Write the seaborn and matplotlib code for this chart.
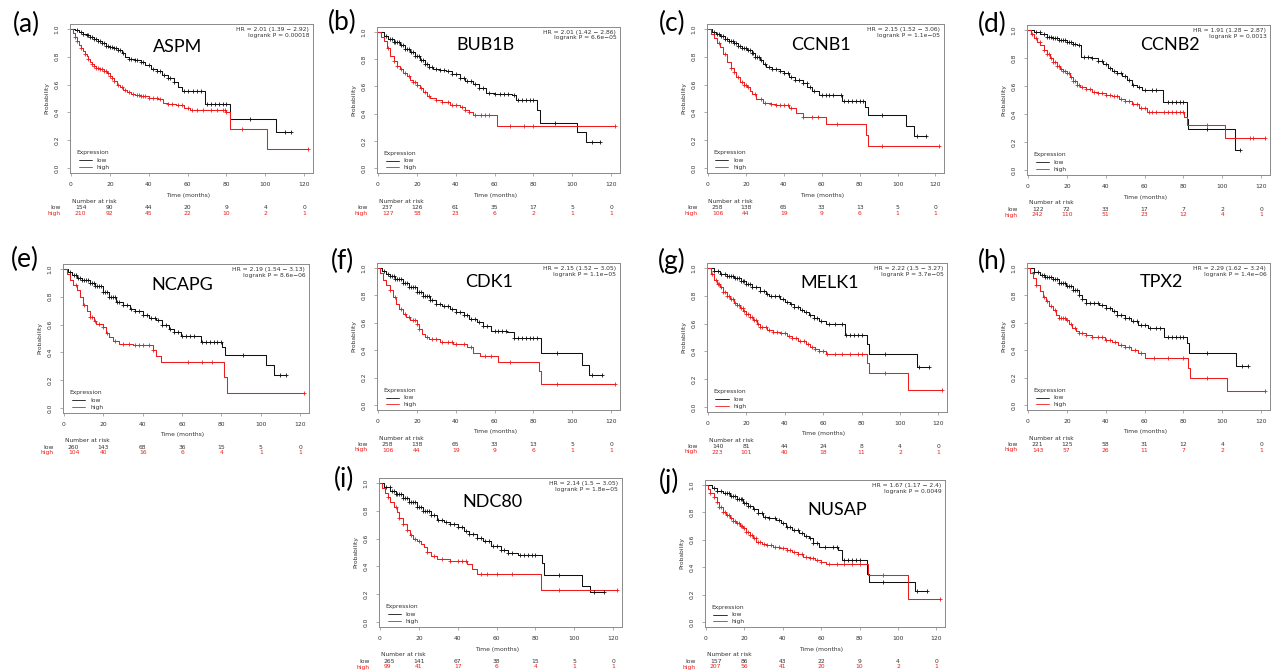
import numpy as np
import pandas as pd
import matplotlib
matplotlib.use("Agg")
import matplotlib.pyplot as plt
import seaborn as sns

sns.set_theme(style="white")
plt.rcParams["font.family"] = ["DejaVu Sans"]

TIME_TICKS = [0, 20, 40, 60, 80, 100, 120]
PROB_TICKS = [0.0, 0.2, 0.4, 0.6, 0.8, 1.0]

# ---------------- ASPM ----------------
ASPM_LOW_T = [0, 2, 4, 6, 8, 10, 12, 14, 16, 18, 20, 22, 24, 26, 28, 30, 33, 36, 38, 41, 44, 47, 50, 53, 55, 57, 69, 82, 105.5]
ASPM_LOW_S = [1.0, 0.99, 0.975, 0.965, 0.955, 0.94, 0.925, 0.91, 0.895, 0.88, 0.87, 0.86, 0.845, 0.83, 0.80, 0.785, 0.78, 0.765, 0.74, 0.71, 0.695, 0.67, 0.645, 0.62, 0.585, 0.555, 0.46, 0.35, 0.26]
ASPM_LOW_CENS = [3, 5, 6, 8, 9, 10, 11, 12, 13, 14, 15, 16, 17, 18, 19, 20, 21, 22, 23, 24, 25, 27, 30, 31, 33, 34, 36, 37, 40, 42, 44, 46, 48, 50, 51, 53, 58, 60, 63, 65, 67, 70, 72, 74, 76, 78, 80, 92, 110, 113]
ASPM_HIGH_T = [0, 1, 2, 3, 4, 5, 6, 7, 8, 9, 10, 11, 12, 13, 15, 17, 18.5, 20, 21, 22, 23.5, 25, 27, 29, 31, 33, 36, 40, 45, 47.5, 50, 54, 58, 61, 80, 82, 101]
ASPM_HIGH_S = [1.0, 0.97, 0.94, 0.91, 0.885, 0.86, 0.84, 0.82, 0.805, 0.785, 0.765, 0.75, 0.735, 0.72, 0.71, 0.70, 0.685, 0.665, 0.645, 0.625, 0.60, 0.58, 0.56, 0.545, 0.535, 0.525, 0.515, 0.505, 0.50, 0.47, 0.46, 0.45, 0.435, 0.42, 0.40, 0.28, 0.14]
ASPM_HIGH_CENS = [2, 3, 5, 7, 9, 11, 12, 13, 14, 15, 16, 17, 18, 19, 20, 21, 22, 24, 26, 28, 30, 32, 34, 35, 36, 37, 38, 40, 42, 44, 46, 50, 52, 55, 57, 60, 62, 65, 68, 72, 75, 78, 79, 80, 88, 122]
ASPM_RISK_LOW = [154, 90, 44, 20, 9, 4, 0]
ASPM_RISK_HIGH = [210, 92, 45, 22, 10, 2, 1]
ASPM_STATS = ["HR = 2.01 (1.39 \u2212 2.92)", "logrank P = 0.00018"]

# ---------------- BUB1B ----------------
BUB1B_LOW_T = [0, 3, 5.4, 8, 11.4, 14, 16.5, 19, 21.6, 24, 26, 28.4, 32, 35, 38, 42, 45, 48.7, 52, 55.5, 60, 69, 70.8, 82, 83.5, 102.6, 106.8]
BUB1B_LOW_S = [1.0, 0.97, 0.945, 0.925, 0.90, 0.875, 0.85, 0.82, 0.79, 0.765, 0.745, 0.726, 0.72, 0.71, 0.69, 0.664, 0.64, 0.614, 0.59, 0.552, 0.545, 0.54, 0.50, 0.43, 0.333, 0.266, 0.19]
BUB1B_LOW_CENS = [4, 6, 7, 8, 9, 10, 11, 12, 13, 14, 15, 16, 17, 18, 19, 20, 21, 22, 23, 24, 25, 26, 28, 30, 32, 34, 36, 38, 40, 42, 44, 46, 48, 50, 52, 54, 57, 60, 63, 65, 67, 70, 72, 74, 76, 78, 80, 91, 110, 114]
BUB1B_HIGH_T = [0, 1.5, 3, 4.5, 6.3, 8, 9.7, 11.5, 13, 15, 16.5, 18, 20, 21.6, 23, 25, 27, 30, 33, 36.8, 42, 45, 47, 48.7, 61]
BUB1B_HIGH_S = [1.0, 0.96, 0.93, 0.88, 0.826, 0.785, 0.75, 0.725, 0.70, 0.675, 0.65, 0.63, 0.61, 0.59, 0.56, 0.527, 0.515, 0.50, 0.485, 0.465, 0.45, 0.43, 0.415, 0.39, 0.308]
BUB1B_HIGH_CENS = [5, 8, 10, 12, 14, 16, 18, 19, 20, 22, 24, 26, 30, 33, 36, 38, 40, 43, 45, 47, 50, 53, 55, 57, 68, 75, 80, 122]
BUB1B_RISK_LOW = [237, 126, 61, 35, 17, 5, 0]
BUB1B_RISK_HIGH = [127, 58, 23, 6, 2, 1, 1]
BUB1B_STATS = ["HR = 2.01 (1.42 \u2212 2.86)", "logrank P = 6.6e\u221205"]

# ---------------- CCNB1 ----------------
CCNB1_LOW_T = [0, 2, 4, 6.6, 9, 11, 13.5, 16, 18, 20.5, 23, 25, 27.4, 29, 30.8, 34, 37.8, 40, 43, 46, 50, 52.5, 55, 58.6, 70.7, 82.8, 84.2, 104.5, 108.8]
CCNB1_LOW_S = [1.0, 0.975, 0.96, 0.946, 0.93, 0.915, 0.898, 0.88, 0.865, 0.849, 0.825, 0.80, 0.776, 0.75, 0.727, 0.715, 0.70, 0.68, 0.654, 0.635, 0.61, 0.585, 0.556, 0.527, 0.483, 0.44, 0.38, 0.305, 0.234]
CCNB1_LOW_CENS = [3, 5, 6, 7, 8, 9, 10, 11, 12, 13, 14, 15, 16, 17, 18, 19, 20, 21, 22, 23, 24, 25, 26, 27, 28, 30, 32, 34, 36, 38, 40, 42, 44, 46, 48, 50, 52, 54, 56, 60, 62, 64, 66, 70, 72, 74, 76, 78, 80, 82, 92, 110, 115]
CCNB1_HIGH_T = [0, 1.5, 3, 5, 6.6, 8, 10, 12, 13.5, 15, 17, 19, 20.5, 22, 23, 25.6, 29, 33, 36, 43, 46.4, 50, 62, 83.2, 84.5]
CCNB1_HIGH_S = [1.0, 0.965, 0.934, 0.90, 0.873, 0.82, 0.763, 0.72, 0.69, 0.655, 0.617, 0.595, 0.58, 0.555, 0.53, 0.495, 0.47, 0.46, 0.454, 0.434, 0.397, 0.366, 0.317, 0.24, 0.16]
CCNB1_HIGH_CENS = [6, 9, 12, 14, 16, 18, 19, 20, 21, 25, 28, 30, 33, 36, 38, 40, 42, 44, 50, 55, 58, 68, 92, 122]
CCNB1_RISK_LOW = [258, 138, 65, 33, 13, 5, 0]
CCNB1_RISK_HIGH = [106, 44, 19, 9, 6, 1, 1]
CCNB1_STATS = ["HR = 2.15 (1.52 \u2212 3.06)", "logrank P = 1.1e\u221205"]

# ---------------- CCNB2 ----------------
CCNB2_LOW_T = [0, 3, 6.4, 10, 13, 16, 20, 23, 25, 27.4, 33, 36, 38.4, 41, 43.4, 46, 48.5, 51, 53.5, 56, 58.6, 69.5, 81.8, 82.5, 106.6]
CCNB2_LOW_S = [1.0, 0.985, 0.968, 0.952, 0.94, 0.93, 0.915, 0.90, 0.89, 0.805, 0.80, 0.78, 0.756, 0.73, 0.707, 0.69, 0.67, 0.64, 0.61, 0.59, 0.573, 0.483, 0.366, 0.29, 0.146]
CCNB2_LOW_CENS = [4, 6, 8, 10, 11, 12, 13, 14, 15, 16, 17, 18, 19, 20, 21, 22, 23, 24, 26, 29, 31, 33, 36, 38, 40, 42, 44, 46, 48, 50, 52, 54, 57, 60, 64, 66, 72, 74, 76, 78, 80, 92, 109]
CCNB2_HIGH_T = [0, 1.5, 3, 4.5, 6.4, 8, 9.8, 11.5, 13, 15, 16.5, 18, 20, 21.5, 23, 25, 26.6, 30, 33, 36, 40, 43, 46.8, 50, 53.5, 57, 61, 80.5, 82, 101.5]
CCNB2_HIGH_S = [1.0, 0.97, 0.94, 0.915, 0.89, 0.86, 0.83, 0.80, 0.77, 0.745, 0.72, 0.705, 0.695, 0.665, 0.634, 0.61, 0.59, 0.575, 0.56, 0.55, 0.537, 0.525, 0.51, 0.49, 0.47, 0.44, 0.415, 0.378, 0.32, 0.227]
CCNB2_HIGH_CENS = [2, 4, 6, 8, 10, 11, 12, 13, 14, 15, 16, 17, 18, 19, 20, 21, 22, 23, 24, 25, 26, 28, 30, 32, 34, 36, 38, 40, 42, 44, 46, 48, 50, 52, 54, 56, 58, 60, 62, 64, 66, 70, 72, 74, 76, 78, 80, 92, 114, 116, 122]
CCNB2_RISK_LOW = [122, 72, 33, 17, 7, 2, 0]
CCNB2_RISK_HIGH = [242, 110, 51, 23, 12, 4, 1]
CCNB2_STATS = ["HR = 1.91 (1.28 \u2212 2.87)", "logrank P = 0.0013"]

# ---------------- NCAPG ----------------
NCAPG_LOW_T = [0, 2, 4, 6.4, 9, 13, 16, 20, 23, 26.6, 30, 33.3, 36, 40, 43, 46.8, 50, 53.5, 56, 59.4, 69.5, 80.5, 82, 102.4, 106.6]
NCAPG_LOW_S = [1.0, 0.975, 0.955, 0.934, 0.92, 0.90, 0.875, 0.837, 0.80, 0.763, 0.74, 0.715, 0.695, 0.666, 0.65, 0.63, 0.60, 0.568, 0.545, 0.52, 0.478, 0.44, 0.385, 0.307, 0.24]
NCAPG_LOW_CENS = [3, 5, 6, 7, 8, 9, 10, 11, 12, 13, 14, 15, 16, 17, 18, 19, 20, 21, 22, 23, 24, 25, 26, 27, 28, 30, 32, 34, 36, 38, 40, 42, 44, 46, 48, 50, 52, 54, 56, 58, 60, 62, 64, 66, 70, 72, 74, 76, 78, 80, 91, 110, 113]
NCAPG_HIGH_T = [0, 1.5, 3, 4.5, 6.4, 8, 9.8, 11.5, 13, 15, 16.5, 20, 21.5, 23, 25, 28, 35, 45, 46.8, 49.3, 81.3, 83]
NCAPG_HIGH_S = [1.0, 0.96, 0.92, 0.885, 0.85, 0.795, 0.74, 0.695, 0.654, 0.625, 0.605, 0.58, 0.537, 0.51, 0.483, 0.458, 0.455, 0.42, 0.373, 0.33, 0.227, 0.112]
NCAPG_HIGH_CENS = [6, 10, 13, 14, 16, 18, 20, 22, 26, 30, 33, 36, 38, 40, 43, 45, 63, 70, 75, 122]
NCAPG_RISK_LOW = [260, 143, 68, 36, 15, 5, 0]
NCAPG_RISK_HIGH = [104, 40, 16, 6, 4, 1, 1]
NCAPG_STATS = ["HR = 2.19 (1.54 \u2212 3.13)", "logrank P = 8.6e\u221206"]

# ---------------- CDK1 ----------------
CDK1_LOW_T = [0, 2, 4, 6, 9, 13, 16, 20, 23, 26.8, 30, 33, 37, 40, 44, 47, 51, 54, 57.9, 66.5, 70, 83.8, 104.8, 108.8]
CDK1_LOW_S = [1.0, 0.975, 0.955, 0.938, 0.915, 0.889, 0.86, 0.827, 0.795, 0.765, 0.733, 0.72, 0.70, 0.68, 0.654, 0.63, 0.605, 0.575, 0.543, 0.53, 0.489, 0.383, 0.296, 0.222]
CDK1_LOW_CENS = [3, 5, 6, 7, 8, 9, 10, 11, 12, 13, 14, 15, 16, 17, 18, 19, 20, 21, 22, 23, 24, 25, 26, 27, 28, 30, 32, 34, 36, 38, 40, 42, 44, 46, 48, 50, 52, 54, 56, 60, 62, 64, 66, 70, 72, 74, 76, 78, 80, 82, 92, 110, 115]
CDK1_HIGH_T = [0, 1, 2.6, 4, 6, 7.5, 9.5, 11, 13, 14.5, 16.4, 20, 21, 22.5, 24, 26, 32, 38.8, 45.8, 49, 52.7, 62, 83, 84]
CDK1_HIGH_S = [1.0, 0.96, 0.914, 0.875, 0.84, 0.79, 0.74, 0.70, 0.667, 0.64, 0.617, 0.593, 0.555, 0.518, 0.50, 0.48, 0.457, 0.444, 0.42, 0.383, 0.358, 0.316, 0.247, 0.153]
CDK1_HIGH_CENS = [6, 9, 12, 14, 16, 18, 19, 20, 21, 25, 28, 30, 33, 36, 38, 40, 44, 48, 55, 58, 68, 92, 122]
CDK1_RISK_LOW = [258, 138, 65, 33, 13, 5, 0]
CDK1_RISK_HIGH = [106, 44, 19, 9, 6, 1, 1]
CDK1_STATS = ["HR = 2.15 (1.52 \u2212 3.05)", "logrank P = 1.1e\u221205"]

# ---------------- MELK1 ----------------
MELK1_LOW_T = [0, 3, 6.5, 10, 13.4, 17, 20, 23, 27, 30, 32, 37.4, 40, 42.5, 45, 47.7, 50, 52.8, 55, 58, 61.4, 71.4, 82.8, 84, 109]
MELK1_LOW_S = [1.0, 0.98, 0.958, 0.945, 0.93, 0.905, 0.885, 0.86, 0.836, 0.815, 0.80, 0.775, 0.755, 0.738, 0.72, 0.70, 0.685, 0.664, 0.64, 0.615, 0.60, 0.52, 0.456, 0.38, 0.285]
MELK1_LOW_CENS = [3, 5, 7, 9, 10, 11, 12, 13, 14, 15, 16, 17, 18, 19, 20, 21, 22, 23, 25, 27, 29, 31, 33, 35, 37, 39, 41, 43, 45, 47, 49, 51, 53, 55, 57, 59, 63, 66, 70, 72, 74, 76, 78, 80, 92, 110, 115]
MELK1_HIGH_T = [0, 1.5, 3, 4.5, 6.5, 8, 10, 11.5, 13.4, 15, 16.8, 18.5, 20, 22, 23.7, 25.5, 27, 30.5, 34, 37.4, 41, 44, 47, 51, 53, 56, 58, 61.4, 82.8, 84, 104.3]
MELK1_HIGH_S = [1.0, 0.955, 0.91, 0.885, 0.86, 0.83, 0.80, 0.775, 0.75, 0.73, 0.713, 0.69, 0.67, 0.65, 0.627, 0.60, 0.578, 0.554, 0.54, 0.53, 0.51, 0.493, 0.475, 0.456, 0.435, 0.414, 0.40, 0.382, 0.32, 0.248, 0.125]
MELK1_HIGH_CENS = [2, 4, 5, 6, 7, 8, 9, 10, 11, 12, 13, 14, 15, 16, 17, 18, 19, 20, 21, 22, 23, 24, 25, 26, 27, 28, 30, 32, 34, 36, 38, 40, 42, 44, 46, 48, 50, 52, 54, 56, 58, 60, 62, 66, 70, 74, 78, 80, 92, 122]
MELK1_RISK_LOW = [140, 81, 44, 24, 8, 4, 0]
MELK1_RISK_HIGH = [223, 101, 40, 18, 11, 2, 1]
MELK1_STATS = ["HR = 2.22 (1.5 \u2212 3.27)", "logrank P = 3.7e\u221205"]

# ---------------- TPX2 ----------------
TPX2_LOW_T = [0, 3, 6, 9, 12.7, 16, 19.4, 23, 26, 28, 29.6, 36.3, 40, 43, 46, 49.8, 53, 56.6, 61.7, 70, 82, 82.8, 106.8]
TPX2_LOW_S = [1.0, 0.97, 0.946, 0.93, 0.915, 0.89, 0.866, 0.835, 0.805, 0.77, 0.744, 0.73, 0.705, 0.683, 0.66, 0.634, 0.61, 0.585, 0.56, 0.50, 0.45, 0.383, 0.285]
TPX2_LOW_CENS = [3, 5, 7, 8, 9, 10, 11, 12, 13, 14, 15, 16, 17, 18, 19, 20, 21, 22, 23, 24, 25, 26, 28, 30, 32, 34, 36, 38, 40, 42, 44, 46, 48, 50, 52, 54, 56, 58, 60, 63, 66, 68, 72, 74, 76, 78, 80, 92, 110, 113]
TPX2_HIGH_T = [0, 1, 2.5, 4, 6, 7.5, 9.3, 11, 12.7, 14.5, 16, 19.4, 21, 22.8, 24.5, 26, 30, 33, 39.7, 43, 46.5, 50, 53.2, 56.6, 60, 82.3, 83.6, 102.2]
TPX2_HIGH_S = [1.0, 0.965, 0.927, 0.875, 0.83, 0.79, 0.756, 0.725, 0.695, 0.66, 0.634, 0.622, 0.59, 0.56, 0.54, 0.524, 0.51, 0.50, 0.476, 0.46, 0.439, 0.42, 0.402, 0.378, 0.341, 0.268, 0.20, 0.105]
TPX2_HIGH_CENS = [4, 8, 10, 12, 14, 16, 17, 18, 19, 20, 22, 24, 26, 28, 30, 33, 36, 38, 40, 42, 45, 48, 50, 52, 55, 58, 65, 72, 80, 92, 122]
TPX2_RISK_LOW = [221, 125, 58, 31, 12, 4, 0]
TPX2_RISK_HIGH = [143, 57, 26, 11, 7, 2, 1]
TPX2_STATS = ["HR = 2.29 (1.62 \u2212 3.24)", "logrank P = 1.4e\u221206"]

# ---------------- NDC80 ----------------
NDC80_LOW_T = [0, 2, 5.2, 8, 12, 15, 19, 22, 26, 29.4, 33, 36, 40, 43, 46, 50, 53, 57, 62, 66, 70.8, 83.2, 84.6, 104, 108]
NDC80_LOW_S = [1.0, 0.97, 0.944, 0.92, 0.89, 0.86, 0.83, 0.80, 0.769, 0.732, 0.72, 0.708, 0.68, 0.652, 0.63, 0.603, 0.58, 0.55, 0.518, 0.50, 0.48, 0.423, 0.336, 0.263, 0.219]
NDC80_LOW_CENS = [3, 5, 6, 7, 8, 9, 10, 11, 12, 13, 14, 15, 16, 17, 18, 19, 20, 21, 22, 23, 24, 25, 26, 28, 30, 32, 34, 36, 38, 40, 42, 44, 46, 48, 50, 52, 54, 56, 58, 60, 62, 64, 66, 68, 72, 74, 76, 78, 80, 92, 110, 115]
NDC80_HIGH_T = [0, 1, 2.6, 4, 5.2, 7, 8.6, 10, 12, 14, 15.5, 17, 19, 21, 22.5, 24, 26, 29.4, 36, 45, 47.5, 50, 82.9]
NDC80_HIGH_S = [1.0, 0.965, 0.927, 0.895, 0.866, 0.83, 0.793, 0.75, 0.708, 0.665, 0.623, 0.60, 0.586, 0.56, 0.537, 0.505, 0.476, 0.45, 0.44, 0.416, 0.38, 0.343, 0.229]
NDC80_HIGH_CENS = [4, 8, 10, 12, 14, 16, 18, 20, 24, 28, 32, 36, 40, 42, 44, 52, 55, 60, 68, 92, 122]
NDC80_RISK_LOW = [265, 141, 67, 38, 15, 5, 0]
NDC80_RISK_HIGH = [99, 41, 17, 6, 4, 1, 1]
NDC80_STATS = ["HR = 2.14 (1.5 \u2212 3.05)", "logrank P = 1.8e\u221205"]

# ---------------- NUSAP ----------------
NUSAP_LOW_T = [0, 3, 5.5, 9, 12.4, 16, 19.3, 22, 24.5, 27, 29.7, 33, 36.6, 39, 41.7, 45, 48.6, 51, 53.8, 56, 59, 69, 70.7, 84, 84.8, 109]
NUSAP_LOW_S = [1.0, 0.975, 0.956, 0.94, 0.922, 0.895, 0.866, 0.845, 0.824, 0.795, 0.768, 0.755, 0.744, 0.72, 0.695, 0.67, 0.646, 0.63, 0.61, 0.58, 0.549, 0.524, 0.451, 0.354, 0.293, 0.224]
NUSAP_LOW_CENS = [4, 6, 8, 10, 11, 12, 13, 14, 15, 16, 17, 18, 19, 20, 21, 22, 23, 25, 27, 29, 31, 33, 36, 38, 40, 42, 44, 46, 48, 50, 52, 54, 56, 58, 62, 66, 68, 72, 74, 76, 78, 80, 92, 110, 115]
NUSAP_HIGH_T = [0, 1, 2, 4, 5.5, 7, 9, 10.5, 12.4, 14, 15.9, 17.5, 19.3, 21, 22.8, 24.5, 26.2, 29, 31.4, 35, 38.3, 42, 45, 48, 50.3, 54, 57, 60, 62.4, 84.5, 105]
NUSAP_HIGH_S = [1.0, 0.97, 0.94, 0.91, 0.878, 0.84, 0.805, 0.78, 0.756, 0.74, 0.72, 0.70, 0.683, 0.66, 0.634, 0.61, 0.585, 0.57, 0.56, 0.55, 0.537, 0.525, 0.512, 0.495, 0.476, 0.465, 0.451, 0.44, 0.427, 0.346, 0.17]
NUSAP_HIGH_CENS = [2, 4, 6, 7, 8, 9, 10, 11, 12, 13, 14, 15, 16, 17, 18, 19, 20, 21, 22, 23, 24, 25, 26, 27, 28, 30, 32, 34, 36, 38, 40, 42, 44, 46, 48, 50, 52, 54, 56, 58, 60, 64, 68, 72, 76, 80, 92, 122]
NUSAP_RISK_LOW = [157, 86, 43, 22, 9, 4, 0]
NUSAP_RISK_HIGH = [207, 56, 41, 20, 10, 2, 1]
NUSAP_STATS = ["HR = 1.67 (1.17 \u2212 2.4)", "logrank P = 0.0049"]

PANELS = [
    ("(a)", "ASPM", (ASPM_LOW_T, ASPM_LOW_S, ASPM_LOW_CENS), (ASPM_HIGH_T, ASPM_HIGH_S, ASPM_HIGH_CENS), ASPM_RISK_LOW, ASPM_RISK_HIGH, ASPM_STATS),
    ("(b)", "BUB1B", (BUB1B_LOW_T, BUB1B_LOW_S, BUB1B_LOW_CENS), (BUB1B_HIGH_T, BUB1B_HIGH_S, BUB1B_HIGH_CENS), BUB1B_RISK_LOW, BUB1B_RISK_HIGH, BUB1B_STATS),
    ("(c)", "CCNB1", (CCNB1_LOW_T, CCNB1_LOW_S, CCNB1_LOW_CENS), (CCNB1_HIGH_T, CCNB1_HIGH_S, CCNB1_HIGH_CENS), CCNB1_RISK_LOW, CCNB1_RISK_HIGH, CCNB1_STATS),
    ("(d)", "CCNB2", (CCNB2_LOW_T, CCNB2_LOW_S, CCNB2_LOW_CENS), (CCNB2_HIGH_T, CCNB2_HIGH_S, CCNB2_HIGH_CENS), CCNB2_RISK_LOW, CCNB2_RISK_HIGH, CCNB2_STATS),
    ("(e)", "NCAPG", (NCAPG_LOW_T, NCAPG_LOW_S, NCAPG_LOW_CENS), (NCAPG_HIGH_T, NCAPG_HIGH_S, NCAPG_HIGH_CENS), NCAPG_RISK_LOW, NCAPG_RISK_HIGH, NCAPG_STATS),
    ("(f)", "CDK1", (CDK1_LOW_T, CDK1_LOW_S, CDK1_LOW_CENS), (CDK1_HIGH_T, CDK1_HIGH_S, CDK1_HIGH_CENS), CDK1_RISK_LOW, CDK1_RISK_HIGH, CDK1_STATS),
    ("(g)", "MELK1", (MELK1_LOW_T, MELK1_LOW_S, MELK1_LOW_CENS), (MELK1_HIGH_T, MELK1_HIGH_S, MELK1_HIGH_CENS), MELK1_RISK_LOW, MELK1_RISK_HIGH, MELK1_STATS),
    ("(h)", "TPX2", (TPX2_LOW_T, TPX2_LOW_S, TPX2_LOW_CENS), (TPX2_HIGH_T, TPX2_HIGH_S, TPX2_HIGH_CENS), TPX2_RISK_LOW, TPX2_RISK_HIGH, TPX2_STATS),
    ("(i)", "NDC80", (NDC80_LOW_T, NDC80_LOW_S, NDC80_LOW_CENS), (NDC80_HIGH_T, NDC80_HIGH_S, NDC80_HIGH_CENS), NDC80_RISK_LOW, NDC80_RISK_HIGH, NDC80_STATS),
    ("(j)", "NUSAP", (NUSAP_LOW_T, NUSAP_LOW_S, NUSAP_LOW_CENS), (NUSAP_HIGH_T, NUSAP_HIGH_S, NUSAP_HIGH_CENS), NUSAP_RISK_LOW, NUSAP_RISK_HIGH, NUSAP_STATS),
]

# Placement in pixels: frame (left, top, width, height), panel tag centre, gene name centre
LAYOUT = [
    ((70, 24, 243, 149), (26, 24), (178, 47)),
    ((377, 27, 243, 146), (342, 22), (485, 45)),
    ((707, 24, 237, 149), (672, 23), (821, 45)),
    ((1027, 25, 243, 150), (992, 24), (1170, 45)),
    ((63, 264, 246, 149), (25, 259), (182, 285)),
    ((377, 263, 243, 147), (343, 261), (489, 282)),
    ((707, 263, 240, 149), (672, 261), (830, 283)),
    ((1027, 263, 243, 147), (992, 261), (1161, 282)),
    ((379, 478, 243, 149), (344, 479), (492, 502)),
    ((705, 480, 240, 147), (669, 481), (837, 510)),
]

W, H = 1283, 671
LOW_COLOR = "#111111"
HIGH_COLOR = "#ee1c1c"
FRAME_COLOR = "#8a8a8a"
SMALL = 4.3


def survival_at(times, T, S):
    idx = np.searchsorted(np.asarray(T), np.asarray(times), side="right") - 1
    return np.asarray(S)[idx]


def draw_curve(ax, curve, color):
    T, S, C = curve
    end = max(T[-1], max(C))
    df = pd.DataFrame({"t": list(T) + [end], "s": list(S) + [S[-1]]})
    sns.lineplot(data=df, x="t", y="s", drawstyle="steps-post", estimator=None,
                 sort=False, color=color, linewidth=0.75, ax=ax)
    cdf = pd.DataFrame({"t": C, "s": survival_at(C, T, S)})
    sns.scatterplot(data=cdf, x="t", y="s", marker="+", color=color, s=10,
                    linewidth=0.6, ax=ax, zorder=3)


fig = plt.figure(figsize=(W / 100, H / 100), dpi=100)

for (tag, gene, low, high, risk_low, risk_high, stats), (frame, tag_pos, gene_pos) in zip(PANELS, LAYOUT):
    left, top, width, height = frame
    ax = fig.add_axes([left / W, 1 - (top + height) / H, width / W, height / H])

    draw_curve(ax, low, LOW_COLOR)
    draw_curve(ax, high, HIGH_COLOR)

    ax.set_xlim(-0.5, 124.5)
    ax.set_ylim(-0.035, 1.035)
    ax.set_xticks(TIME_TICKS)
    ax.set_xticklabels([str(t) for t in TIME_TICKS])
    ax.set_yticks(PROB_TICKS)
    ax.set_yticklabels([f"{v:.1f}" for v in PROB_TICKS], rotation=90, va="center")
    ax.tick_params(axis="both", which="major", direction="out", bottom=True, left=True,
                   length=2.5, width=0.5, color=FRAME_COLOR, labelsize=SMALL,
                   labelcolor="#333333")
    ax.tick_params(axis="x", pad=4)
    ax.tick_params(axis="y", pad=5)
    for sp in ax.spines.values():
        sp.set_color(FRAME_COLOR)
        sp.set_linewidth(0.7)
    ax.set_xlabel("")
    ax.set_ylabel("Probability", fontsize=SMALL, color="#333333", labelpad=4)

    # Hazard ratio and log-rank test
    ax.text(0.985, 0.965, stats[0], transform=ax.transAxes, ha="right", va="center",
            fontsize=SMALL, color="#333333")
    ax.text(0.985, 0.925, stats[1], transform=ax.transAxes, ha="right", va="center",
            fontsize=SMALL, color="#333333")

    # Legend
    ax.text(0.025, 0.135, "Expression", transform=ax.transAxes, ha="left", va="center",
            fontsize=SMALL, color="#333333")
    for yy, lab, col in ((0.085, "low", LOW_COLOR), (0.04, "high", HIGH_COLOR)):
        ax.plot([0.035, 0.09], [yy, yy], transform=ax.transAxes, color=col, linewidth=0.6)
        ax.text(0.11, yy, lab, transform=ax.transAxes, ha="left", va="center",
                fontsize=SMALL, color="#333333")

    # Axis title and number-at-risk table
    def under(x, dy, s, color="#333333", ha="center", dx=0):
        ax.annotate(s, xy=(x, 0), xycoords=("data", "axes fraction"), xytext=(dx, -dy),
                    textcoords="offset pixels", ha=ha, va="center", fontsize=SMALL,
                    color=color, annotation_clip=False)

    under(60, 22, "Time (months)")
    under(12, 28, "Number at risk")
    under(0, 34.5, "low", ha="right", dx=-10)
    under(0, 40, "high", color=HIGH_COLOR, ha="right", dx=-10)
    for t, nl, nh in zip(TIME_TICKS, risk_low, risk_high):
        if t == 0:
            under(t, 34.5, str(nl), ha="left", dx=4)
            under(t, 40, str(nh), color=HIGH_COLOR, ha="left", dx=4)
        else:
            under(t, 34.5, str(nl))
            under(t, 40, str(nh), color=HIGH_COLOR)

    # Panel tag and gene name
    fig.text(tag_pos[0] / W, 1 - tag_pos[1] / H, tag, ha="center", va="center",
             fontsize=19, family=["Lato", "DejaVu Sans"], color="black")
    fig.text(gene_pos[0] / W, 1 - gene_pos[1] / H, gene, ha="center", va="center",
             fontsize=13, family=["Lato", "DejaVu Sans"], color="black")

fig.savefig("out.png", dpi=100, facecolor="white")
